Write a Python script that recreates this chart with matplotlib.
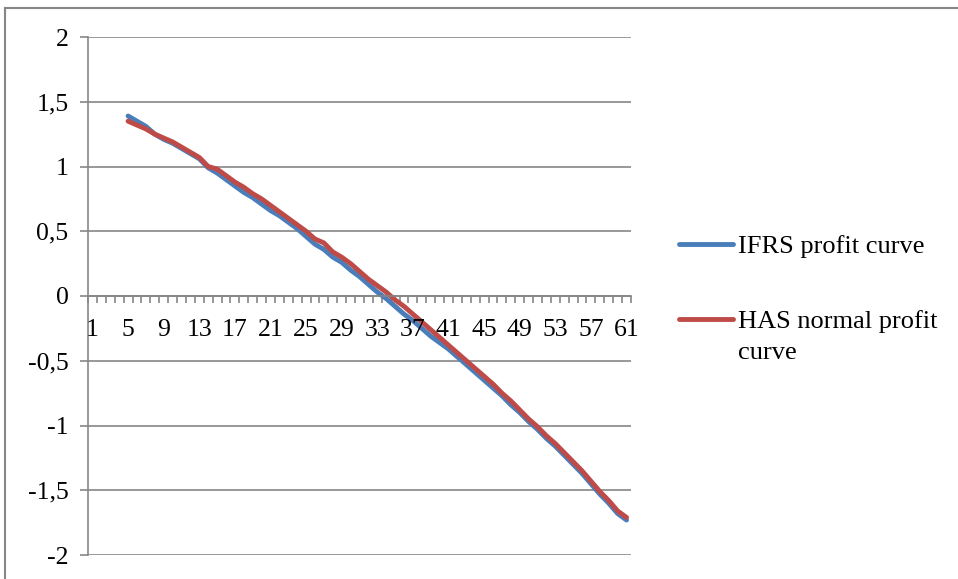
import numpy as np
import matplotlib.pyplot as plt
from matplotlib.lines import Line2D
from matplotlib.ticker import FuncFormatter

# categories 1..61, the series start at 5
categories = list(range(1, 62))
x_values = list(range(5, 62))

ifrs_profit = [1.39, 1.35, 1.31, 1.25, 1.21, 1.18, 1.14, 1.10, 1.06, 0.99,
               0.95, 0.90, 0.85, 0.80, 0.76, 0.71, 0.66, 0.62, 0.57, 0.52,
               0.46, 0.40, 0.36, 0.30, 0.26, 0.20, 0.15, 0.09, 0.03, -0.02,
               -0.08, -0.14, -0.19, -0.25, -0.31, -0.36, -0.41, -0.47, -0.53, -0.59,
               -0.65, -0.71, -0.77, -0.84, -0.90, -0.97, -1.03, -1.10, -1.16, -1.23,
               -1.30, -1.37, -1.45, -1.53, -1.60, -1.68, -1.73]
has_profit = [1.35, 1.32, 1.29, 1.25, 1.22, 1.19, 1.15, 1.11, 1.07, 1.00,
              0.98, 0.93, 0.88, 0.84, 0.79, 0.75, 0.70, 0.65, 0.60, 0.55,
              0.50, 0.44, 0.41, 0.34, 0.30, 0.25, 0.19, 0.13, 0.08, 0.03,
              -0.03, -0.08, -0.14, -0.20, -0.26, -0.32, -0.38, -0.44, -0.50, -0.56,
              -0.62, -0.68, -0.75, -0.81, -0.88, -0.95, -1.01, -1.08, -1.14, -1.21,
              -1.28, -1.35, -1.43, -1.51, -1.58, -1.66, -1.71]
series_names = ["IFRS profit curve", "HAS normal profit\ncurve"]
series_colors = ["#4A7EBB", "#BE4B48"]
y_ticks = [-2, -1.5, -1, -0.5, 0, 0.5, 1, 1.5, 2]
x_labels = list(range(1, 62, 4))

plt.rcParams['font.family'] = ['Liberation Serif', 'DejaVu Serif']
grid_col = "#868686"

fig = plt.figure(figsize=(9.58, 5.79), dpi=100)
ax = fig.add_axes([88/958, 1-555/579, (631-88)/958, (555-37)/579])

for vals, col in zip([ifrs_profit, has_profit], series_colors):
    ax.plot(x_values, vals, color=col, lw=3.5, solid_capstyle='round',
            solid_joinstyle='round')

ax.set_xlim(0.5, 61.5)
ax.set_ylim(-2, 2)
ax.set_yticks(y_ticks)
ax.yaxis.set_major_formatter(FuncFormatter(lambda v, p: f"{v:g}".replace(".", ",")))
ax.grid(axis='y', color=grid_col, lw=1.2)
ax.set_axisbelow(True)

# category axis crossing at zero, tick marks between categories
ax.spines['bottom'].set_position(('data', 0))
ax.spines['top'].set_visible(False)
ax.spines['right'].set_visible(False)
for s in ['bottom', 'left']:
    ax.spines[s].set_color(grid_col)
    ax.spines[s].set_linewidth(1.2)
ax.set_xticks(np.arange(0.5, 62, 1))
ax.set_xticklabels([])
ax.tick_params(axis='x', length=5, color=grid_col, width=1.2)
for c in x_labels:
    ax.text(c, -0.18, str(c), ha='center', va='top', fontsize=18.5)
ax.tick_params(axis='y', length=6, color=grid_col, width=1.2, labelsize=18.5, pad=8)

# legend on the right, handle level with the first text line
leg_rows = [244, 319]
for name, col, yr in zip(series_names, series_colors, leg_rows):
    yf = 1 - yr/579
    fig.add_artist(Line2D([679/958, 733/958], [yf, yf], color=col, lw=3.5,
                          solid_capstyle='round'))
    for k, part in enumerate(name.split("\n")):
        fig.text(738/958, 1 - (yr + 9 + k*31)/579, part, fontsize=19,
                 ha='left', va='baseline')

# chart area border (top and left are visible)
fig.add_artist(Line2D([5/958, 1], [1-8/579, 1-8/579], color=grid_col, lw=1.5))
fig.add_artist(Line2D([5/958, 5/958], [0, 1-8/579], color=grid_col, lw=1.5))

fig.savefig("out.png", dpi=100)
